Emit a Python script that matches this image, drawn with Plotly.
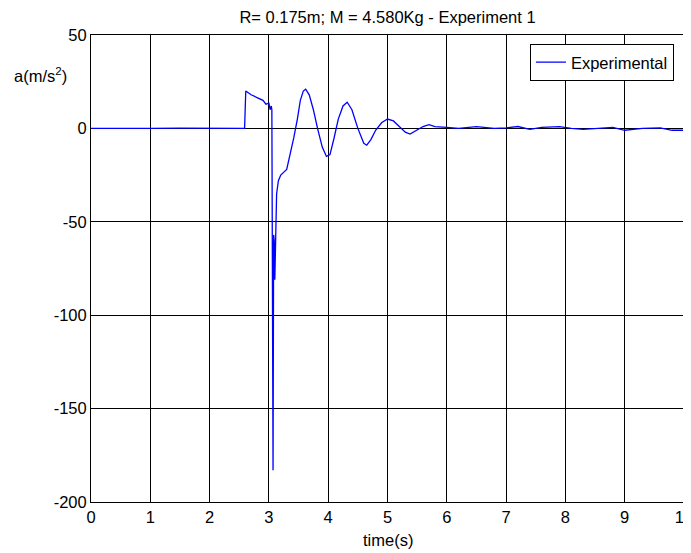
import plotly.graph_objects as go

# Data
time_s = [0.0, 0.5, 1.0, 1.5, 2.0, 2.59, 2.61, 2.65, 2.7, 2.8, 2.9, 2.95, 3.0, 3.02, 3.04, 3.05,
          3.07, 3.08, 3.09, 3.10, 3.11, 3.13, 3.16, 3.2, 3.3, 3.35, 3.42, 3.48, 3.53, 3.58,
          3.62, 3.68, 3.75, 3.82, 3.9, 3.97, 4.03, 4.1, 4.17, 4.25, 4.32, 4.4, 4.5, 4.6,
          4.65, 4.72, 4.8, 4.9, 5.0, 5.1, 5.2, 5.3, 5.38, 5.48, 5.6, 5.7, 5.8, 6.0, 6.2,
          6.5, 6.8, 7.0, 7.2, 7.4, 7.6, 7.9, 8.1, 8.3, 8.6, 8.8, 9.0, 9.3, 9.6, 9.8, 10.0]
accel = [0.0, 0.2, 0.0, 0.1, 0.0, 0.0, 20.0, 19.0, 18.0, 16.5, 15.0, 13.0, 13.5, 10.0, 12.0, 10.0,
         -183.0, -57.0, -60.0, -81.0, -55.0, -35.0, -28.0, -25.0, -22.0, -15.0, -5.0, 5.0, 15.0, 20.0,
         21.0, 18.0, 10.0, 0.0, -10.0, -15.0, -14.0, -5.0, 5.0, 12.0, 14.0, 10.0, 0.0, -8.0,
         -9.0, -6.0, -1.0, 3.0, 5.0, 4.0, 1.0, -2.0, -3.0, -1.0, 1.0, 2.0, 1.0, 0.5, 0.0,
         1.0, 0.0, 0.3, 1.0, -0.5, 0.5, 1.0, 0.0, -0.5, 0.0, 0.5, -1.0, 0.0, 0.3, -1.0, -1.0]

x_ticks = [0, 1, 2, 3, 4, 5, 6, 7, 8, 9, 10]
y_ticks = [50, 0, -50, -100, -150, -200]
y_tick_text = ["50", "0", "-50", "-100", "-150", "-200"]

FONT = "Liberation Sans, Arial, sans-serif"
FS = 16.5

fig = go.Figure()
fig.add_trace(go.Scatter(x=time_s, y=accel, mode="lines", name="Experimental",
                         line=dict(color="#0000FF", width=1.3)))

fig.update_layout(
    width=683, height=545,
    margin=dict(l=83, r=7, t=27, b=51, autoexpand=False),
    paper_bgcolor="white", plot_bgcolor="white",
    font=dict(family=FONT, size=FS, color="black"),
    title=dict(text="R= 0.175m; M = 4.580Kg - Experiment 1", xref="paper", x=0.5, xanchor="center",
               yref="container", y=0.9835, yanchor="middle", font=dict(size=FS)),
    showlegend=True,
    legend=dict(x=0.983, y=0.981, xanchor="right", yanchor="top",
                bgcolor="white", bordercolor="black", borderwidth=1,
                itemwidth=30, font=dict(size=FS)),
    xaxis=dict(range=[0, 10], tickvals=x_ticks, showgrid=True, gridcolor="black", gridwidth=1,
               showline=True, linecolor="black", linewidth=1, mirror=True, automargin=False,
               ticks="", zeroline=False, tickfont=dict(size=FS), ticklabeloverflow="allow"),
    yaxis=dict(range=[-200, 50], tickvals=y_ticks, ticktext=y_tick_text,
               showgrid=True, gridcolor="black", gridwidth=1, automargin=False,
               showline=True, linecolor="black", linewidth=1, mirror=True,
               ticks="", zeroline=False, tickfont=dict(size=FS), ticklabeloverflow="allow"),
    annotations=[
        dict(text="a(m/s<sup>2</sup>)", xref="paper", yref="paper", x=-0.133, y=0.914,
             xanchor="left", yanchor="middle", showarrow=False, font=dict(size=FS)),
        dict(text="time(s)", xref="paper", yref="paper", x=0.5, y=-0.0814,
             xanchor="center", yanchor="middle", showarrow=False, font=dict(size=FS)),
    ],
)

fig.write_html("out.html")
